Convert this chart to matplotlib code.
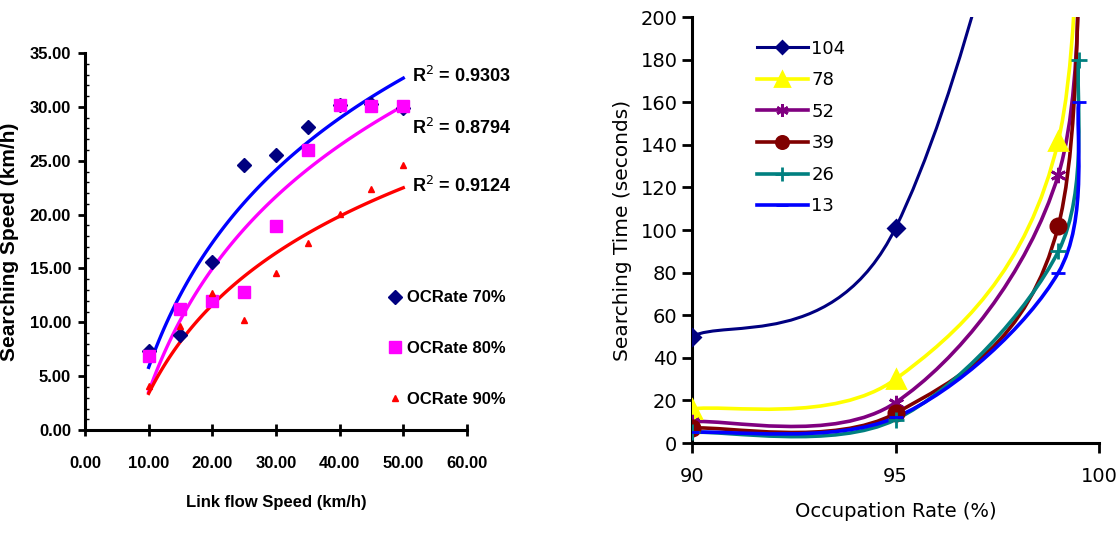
import numpy as np
import matplotlib
matplotlib.use("Agg")
import matplotlib.pyplot as plt
from matplotlib.path import Path
from matplotlib.patches import PathPatch
from matplotlib.lines import Line2D

# ---- left panel: searching speed vs link flow speed ----
link_speed = [10, 15, 20, 25, 30, 35, 40, 45, 50]
speed_70 = [7.3, 8.8, 15.6, 24.6, 25.5, 28.1, 30.2, 30.3, 29.9]
speed_80 = [6.9, 11.2, 12.0, 12.8, 18.9, 26.0, 30.2, 30.1, 30.1]
speed_90 = [4.1, 9.7, 12.7, 10.2, 14.6, 17.4, 20.1, 22.4, 24.6]
left_labels = ["OCRate 70%", "OCRate 80%", "OCRate 90%"]
r2_labels = ["R$^2$ = 0.9303", "R$^2$ = 0.8794", "R$^2$ = 0.9124"]

# ---- right panel: searching time vs occupation rate ----
occ_rate = [90, 95, 99, 99.5]
time_104 = [50, 101, 400, 800]
time_78 = [16, 30, 142, 400]
time_52 = [10, 19, 126, 300]
time_39 = [7, 14, 102, 350]
time_26 = [5, 11, 90, 180]
time_13 = [5, 12, 80, 160]
right_labels = ["104", "78", "52", "39", "26", "13"]


def smooth_path(xs, ys):
    # excel-like smoothed line: cubic bezier through the points
    pts = np.column_stack([xs, ys]).astype(float)
    n = len(pts)
    verts = [pts[0]]
    codes = [Path.MOVETO]
    for i in range(n - 1):
        p_prev = pts[max(i - 1, 0)]
        p_next2 = pts[min(i + 2, n - 1)]
        c1 = pts[i] + (pts[i + 1] - p_prev) / 6.0
        c2 = pts[i + 1] - (p_next2 - pts[i]) / 6.0
        verts += [c1, c2, pts[i + 1]]
        codes += [Path.CURVE4] * 3
    return Path(verts, codes)


fig = plt.figure(figsize=(11.2, 5.41), dpi=100)

# left
ax1 = fig.add_axes([0.0759, 0.205, 0.341, 0.697])
lfont = {"family": "Liberation Sans", "weight": "bold"}
series_left = [
    (speed_70, "#000080", "D", 7, "#0000FF"),
    (speed_80, "#FF00FF", "s", 9, "#FF00FF"),
    (speed_90, "#FF0000", "^", 5, "#FF0000"),
]
xfit = np.linspace(10, 50, 100)
handles = []
for vals, mc, mk, ms, lc in series_left:
    h, = ax1.plot(link_speed, vals, ls="none", marker=mk, ms=ms, color=mc, zorder=3)
    handles.append(h)
    a, b = np.polyfit(np.log(link_speed), vals, 1)
    ax1.plot(xfit, a * np.log(xfit) + b, color=lc, lw=2.4, zorder=2)

for txt, yv in zip(r2_labels, [32.9, 28.0, 22.7]):
    ax1.text(51.3, yv, txt, fontsize=13, va="center", **lfont)

ax1.legend(handles, left_labels, loc="upper left", bbox_to_anchor=(0.755, 0.41),
           frameon=False, handlelength=0.8, handletextpad=0.3, labelspacing=2.15,
           prop={"family": "Liberation Sans", "weight": "bold", "size": 12})

ax1.set_xlim(0, 60)
ax1.set_ylim(0, 35)
ax1.set_xticks(np.arange(0, 61, 10))
ax1.set_yticks(np.arange(0, 36, 5))
ax1.set_yticks(np.arange(0, 36, 1), minor=True)
ax1.set_xticklabels([f"{v:.2f}" for v in np.arange(0, 61, 10)], fontsize=12, **lfont)
ax1.set_yticklabels([f"{v:.2f}" for v in np.arange(0, 36, 5)], fontsize=12, **lfont)
ax1.tick_params(axis="x", direction="inout", length=8, width=2, pad=15)
ax1.tick_params(axis="y", which="major", direction="out", length=5, width=2, pad=5)
ax1.tick_params(axis="y", which="minor", direction="in", length=3, width=1)
for s in ["top", "right"]:
    ax1.spines[s].set_visible(False)
for s in ["left", "bottom"]:
    ax1.spines[s].set_linewidth(2.2)
ax1.set_xlabel("Link flow Speed (km/h)", fontsize=12, labelpad=17, **lfont)
ax1.set_ylabel("Searching Speed (km/h)", fontsize=15, labelpad=8, **lfont)

# right
ax2 = fig.add_axes([0.6179, 0.1811, 0.3634, 0.7874])
series_right = [
    (time_104, "#000080", "D", 8, 2.2),
    (time_78, "#FFFF00", "^", 13, 2.6),
    (time_52, "#800080", (6, 2, 0), 11, 2.6),
    (time_39, "#800000", "o", 11, 2.6),
    (time_26, "#008080", "+", 12, 2.6),
    (time_13, "#0000FF", "_", 10, 2.6),
]
proxies = []
for vals, col, mk, ms, lw in series_right:
    ax2.add_patch(PathPatch(smooth_path(occ_rate, vals), fill=False,
                            edgecolor=col, lw=lw, zorder=2))
    ax2.plot(occ_rate, vals, ls="none", marker=mk, ms=ms, color=col,
             mew=2, zorder=3)
    proxies.append(Line2D([], [], color=col, lw=lw, marker=mk, ms=ms * 0.8, mew=2))

ax2.legend(proxies, right_labels, loc="upper left", bbox_to_anchor=(0.12, 0.985),
           frameon=False, handlelength=2.8, handletextpad=0.2, labelspacing=0.75,
           prop={"family": "DejaVu Sans", "size": 13})

ax2.set_xlim(90, 100)
ax2.set_ylim(0, 200)
ax2.set_xticks([90, 95, 100])
ax2.set_yticks(np.arange(0, 201, 20))
ax2.tick_params(axis="both", direction="out", length=7, width=2, labelsize=14)
ax2.tick_params(axis="x", pad=10)
for s in ["top", "right"]:
    ax2.spines[s].set_visible(False)
for s in ["left", "bottom"]:
    ax2.spines[s].set_linewidth(2.2)
ax2.set_xlabel("Occupation Rate (%)", fontsize=14, labelpad=12)
ax2.set_ylabel("Searching Time (seconds)", fontsize=14.5, labelpad=6)

fig.savefig("out.png", dpi=100)
